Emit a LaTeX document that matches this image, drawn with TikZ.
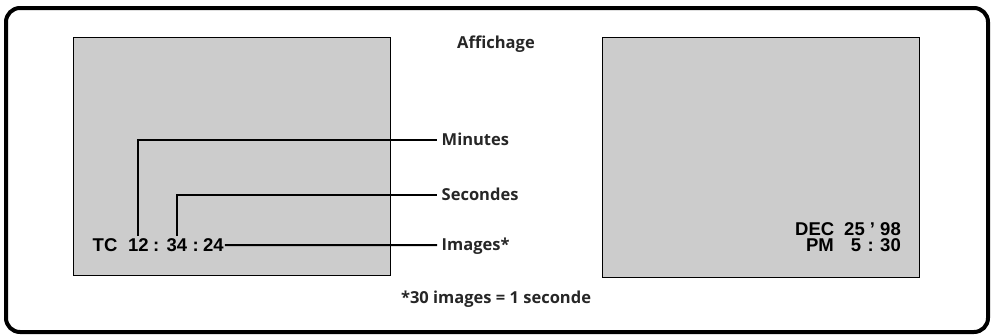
\documentclass[tikz,border=0pt]{standalone}
\usepackage{fontspec}
\setmainfont{Open Sans}
\newfontfamily\osdfont{Liberation Sans}
\usetikzlibrary{positioning}

\begin{document}
\begin{tikzpicture}[x=1pt,y=-1pt,
  screen/.style={draw,line width=1pt,fill=black!20},
  readout/.style={inner sep=0pt,text depth=0pt,font=\osdfont\bfseries\fontsize{18.5}{16}\selectfont},
  callout/.style={inner sep=0pt,text height=11.8pt,text depth=0pt,text=black!85,font=\bfseries\fontsize{16.5}{18}\selectfont},
  leader/.style={line width=2pt}]
  \useasboundingbox (0,0) rectangle (993,335);
  \draw[line width=4pt,rounded corners=14pt] (6,8) rectangle (988,332);
  \draw[screen] (73,37) rectangle (390,275);
  \draw[screen] (602,37) rectangle (919,277);
  \node[callout,anchor=base] (title) at (496,48.3) {Affichage};
  % time code
  \node[readout,anchor=base west] (tc) at (92.5,251.7) {TC};
  \node[readout,anchor=base west] (hh) at (128,251.7) {12};
  \node[readout,anchor=base west] (col1) at (153,251.7) {:};
  \node[readout,anchor=base west] (mm) at (166.5,251.7) {34};
  \node[readout,anchor=base west] (col2) at (192.5,251.7) {:};
  \node[readout,anchor=base west] (ff) at (203,251.7) {24};
  \node[callout,anchor=west] (min) at (441.5,140) {Minutes};
  \node[callout,anchor=west] (sec) at (441.5,195) {Secondes};
  \node[callout,anchor=west] (img) at (441.5,245) {Images*};
  \draw[leader,shorten <=3pt,shorten >=4.5pt] (hh.north) |- (min.west);
  \draw[leader,shorten <=3pt,shorten >=4.5pt] (mm.north) |- (sec.west);
  \draw[leader,shorten <=1pt,shorten >=4.5pt] (ff.east) -- (img.west);
  % date and clock
  \node[readout,anchor=base east] (date) at (901,235) {DEC\hspace{10pt}25 ’ 98};
  \node[readout,anchor=base east] (clock) at (901,251.7) {PM\hspace{17pt}5\hspace{6.5pt}:\hspace{6.5pt}30};
  \node[callout,anchor=base] (note) at (496,303.3) {*30 images = 1 seconde};
\end{tikzpicture}
\end{document}
